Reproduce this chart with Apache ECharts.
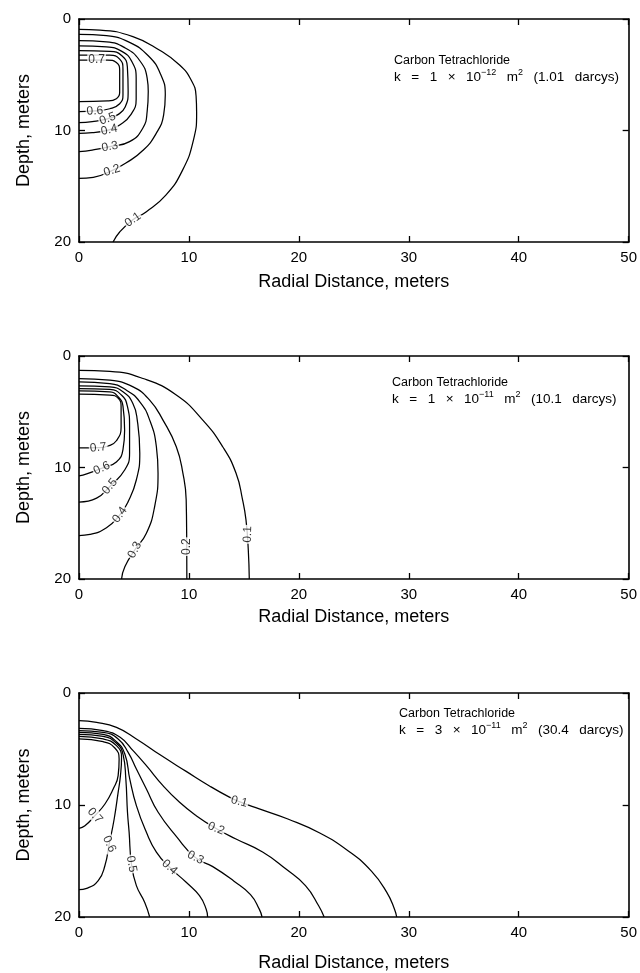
<!DOCTYPE html>
<html><head><meta charset="utf-8">
<script src="https://cdn.jsdelivr.net/npm/echarts@6/dist/echarts.min.js"></script>
<style>html,body{margin:0;padding:0;background:#fff}#c{width:640px;height:973px}</style>
</head><body><div id="c"></div>
<script>
// ---------- DATA ----------
const xRange = [0, 50];
const yRange = [0, 20];
const xInterval = 10;
const yInterval = 10;
const xAxisName = 'Radial Distance, meters';
const yAxisName = 'Depth, meters';
const titleLine1 = ['Carbon Tetrachloride', 'Carbon Tetrachloride', 'Carbon Tetrachloride'];
const titleLine2 = [
  'k = 1 × 10{sup|−12} m{sup|2} (1.01 darcys)',
  'k = 1 × 10{sup|−11} m{sup|2} (10.1 darcys)',
  'k = 3 × 10{sup|−11} m{sup|2} (30.4 darcys)'
];

// Panel 1 contours: [radial distance, depth]
const p1_c01 = [[0,0.93],[1.9,0.99],[4.9,1.58],[7.3,2.78],[9.15,4.13],[10.2,5.47],[10.65,6.9],[10.7,8.4],[10.4,10.9],[9.4,13.6],[7.9,15.8],[6.1,17.3],[4.9,18.0],[3.7,19.1],[3.1,20]];
const p1_c02 = [[0,1.37],[2.5,1.5],[4.6,2.1],[6.3,3.3],[7.4,4.9],[7.85,6.8],[7.7,8.6],[7.0,10.3],[5.8,11.8],[4.3,12.9],[3.0,13.6],[1.3,14.2],[0,14.3]];
const p1_c03 = [[0,1.94],[2.5,2.05],[4.2,2.6],[5.5,3.7],[6.2,5.3],[6.3,6.5],[6.2,8.3],[5.8,9.8],[4.6,11.0],[2.8,11.45],[1.2,11.75],[0,11.9]];
const p1_c04 = [[0,2.42],[2.5,2.5],[3.9,2.9],[4.8,3.8],[5.2,5.3],[5.2,7.2],[4.7,8.6],[3.7,9.5],[2.75,9.95],[1.2,10.2],[0,10.25]];
const p1_c05 = [[0,2.84],[2.8,2.9],[3.9,3.3],[4.4,4.3],[4.47,6.5],[4.2,7.9],[3.5,8.6],[2.6,8.95],[1.2,9.2],[0,9.3]];
const p1_c06 = [[0,3.23],[2.8,3.25],[3.7,3.6],[4.0,4.5],[4.0,6.8],[3.7,7.6],[2.8,8.05],[1.45,8.25],[0,8.3]];
const p1_c07 = [[0,3.68],[2.6,3.68],[3.4,3.9],[3.7,4.6],[3.7,6.6],[3.4,7.15],[2.6,7.35],[0,7.4]];
const p1_labels = [[1.6,3.68,'0.7'],[1.45,8.25,'0.6'],[2.6,8.95,'0.5'],[2.75,9.95,'0.4'],[2.8,11.45,'0.3'],[3.0,13.6,'0.2'],[4.9,18.0,'0.1']];

// Panel 2 contours
const p2_c01 = [[0,1.28],[2.8,1.37],[5.83,2.02],[8.85,3.5],[11.26,5.75],[13.07,8.14],[14.28,10.5],[14.88,12.9],[15.19,14.7],[15.4,17.4],[15.49,20]];
const p2_c02 = [[0,2.02],[2.8,2.17],[4.92,2.77],[6.43,3.96],[7.64,5.75],[8.85,8.14],[9.45,10.5],[9.75,12.9],[9.8,17.1],[9.81,20]];
const p2_c03 = [[0,2.32],[2.8,2.47],[4.32,3.07],[5.53,4.11],[6.43,5.75],[7.04,8.14],[7.19,10.5],[6.88,13.5],[6.13,15.9],[5.07,17.4],[4.17,18.9],[3.87,20]];
const p2_c04 = [[0,2.68],[2.8,2.77],[4.0,3.2],[4.9,4.26],[5.3,5.75],[5.53,8.73],[5.22,11.1],[4.47,13.06],[3.71,14.25],[2.5,15.4],[1.0,16.0],[0,16.1]];
const p2_c05 = [[0,2.92],[2.8,3.0],[3.86,3.5],[4.4,4.5],[4.6,6.3],[4.6,8.7],[4.17,10.2],[2.8,11.7],[1.6,12.75],[0,13.1]];
const p2_c06 = [[0,3.13],[2.8,3.22],[3.6,3.7],[4.0,4.5],[4.15,6.65],[4.0,8.4],[3.4,9.5],[2.07,10.07],[0.7,10.58],[0,10.76]];
const p2_c07 = [[0,3.43],[2.8,3.5],[3.6,3.83],[3.83,4.57],[3.83,6.36],[3.4,7.6],[2.66,8.07],[1.75,8.22],[0,8.25]];
const p2_labels = [[1.75,8.22,'0.7'],[2.07,10.07,'0.6'],[2.8,11.7,'0.5'],[3.71,14.25,'0.4'],[5.07,17.4,'0.3'],[9.8,17.1,'0.2'],[15.35,16.0,'0.1']];

// Panel 3 contours
const p3_c01 = [[0,2.47],[1.6,2.62],[3.41,3.07],[5.22,4.1],[7.34,5.5],[9.75,7.0],[11.87,8.3],[13.68,9.3],[14.58,9.7],[16.4,10.35],[19.0,11.25],[21.9,12.5],[24.5,14.1],[26.6,15.9],[28.0,17.8],[28.7,19.3],[28.9,20]];
const p3_c02 = [[0,3.15],[2.2,3.36],[3.74,3.96],[4.92,5.15],[6.13,6.49],[7.64,8.27],[9.15,9.76],[10.66,10.95],[12.47,12.1],[14.28,13.04],[16.7,14.2],[18.8,15.7],[20.6,17.2],[21.8,19.0],[22.3,20]];
const p3_c03 = [[0,3.36],[2.2,3.51],[3.56,4.1],[4.47,5.3],[5.22,6.79],[6.13,8.57],[7.2,10.65],[8.85,12.8],[10.6,14.7],[12.17,15.5],[14.1,16.8],[15.6,18.0],[16.4,19.3],[16.65,20]];
const p3_c04 = [[0,3.51],[2.2,3.69],[3.41,4.35],[4.17,5.45],[4.62,7.68],[5.22,10.06],[6.13,12.44],[7.04,14.2],[8.24,15.56],[9.75,16.9],[10.96,18.1],[11.57,19.3],[11.7,20]];
const p3_c05 = [[0,3.69],[2.2,3.87],[3.41,4.49],[4.02,5.54],[4.26,7.68],[4.41,10.65],[4.56,12.44],[4.77,15.27],[5.22,17.2],[5.98,18.7],[6.43,20]];
const p3_c06 = [[0,3.87],[2.2,4.1],[3.41,4.7],[3.87,5.74],[3.77,7.38],[3.56,8.87],[3.2,11.25],[2.75,13.48],[2.36,15.4],[1.75,16.76],[0.7,17.44],[0,17.56]];
const p3_c07 = [[0,4.1],[2.2,4.35],[3.26,4.91],[3.65,5.89],[3.56,7.38],[3.11,8.57],[2.36,9.91],[1.45,10.95],[0.54,11.85],[0,12.08]];
const p3_labels = [[14.58,9.7,'0.1'],[12.47,12.1,'0.2'],[10.6,14.7,'0.3'],[8.24,15.56,'0.4'],[4.77,15.27,'0.5'],[2.75,13.48,'0.6'],[1.45,10.95,'0.7']];

// ---------- STYLE / LAYOUT ----------
const FONT = '"Liberation Sans", Arial, Helvetica, sans-serif';
const gridBoxes = [
  {left: 79, top: 19, width: 552, height: 223},
  {left: 79, top: 356, width: 552, height: 223},
  {left: 79, top: 693, width: 552, height: 225}
];
const xNameGaps = [31, 29, 37];
const labelRotations = [
  [0, 4, 20, 12, 10, 18, 35],
  [6, 25, 50, 55, 62, 90, 88],
  [-15, -22, -28, -42, -80, -65, -48]
];
const titlePos = [[394, 54], [392, 376], [399, 707]];
const SP = ' \u2002';

const panels = [
  {contours: [p1_c01,p1_c02,p1_c03,p1_c04,p1_c05,p1_c06,p1_c07], labels: p1_labels},
  {contours: [p2_c01,p2_c02,p2_c03,p2_c04,p2_c05,p2_c06,p2_c07], labels: p2_labels},
  {contours: [p3_c01,p3_c02,p3_c03,p3_c04,p3_c05,p3_c06,p3_c07], labels: p3_labels}
];

const axisLine = {show: true, onZero: false, lineStyle: {color: '#000', width: 1.6}};
const axisTick = {show: true, inside: true, length: 6, lineStyle: {color: '#000', width: 1.3}};

const grid = [], xAxis = [], yAxis = [], series = [], graphic = [];
panels.forEach((p, g) => {
  grid.push(Object.assign({containLabel: false}, gridBoxes[g]));
  xAxis.push({
    type: 'value', gridIndex: g, position: 'bottom', min: xRange[0], max: xRange[1], interval: xInterval,
    axisLine, axisTick, splitLine: {show: false},
    axisLabel: {color: '#000', fontSize: 15, fontFamily: FONT, margin: 8},
    name: xAxisName, nameLocation: 'middle', nameGap: xNameGaps[g],
    nameTextStyle: {color: '#000', fontSize: 18, fontFamily: FONT}
  });
  xAxis.push({
    type: 'value', gridIndex: g, position: 'top', min: xRange[0], max: xRange[1], interval: xInterval,
    axisLine, axisTick, splitLine: {show: false}, axisLabel: {show: false}
  });
  yAxis.push({
    type: 'value', gridIndex: g, position: 'left', inverse: true, min: yRange[0], max: yRange[1], interval: yInterval,
    axisLine, axisTick, splitLine: {show: false},
    axisLabel: {color: '#000', fontSize: 15, fontFamily: FONT, margin: 8},
    name: yAxisName, nameLocation: 'middle', nameGap: 46, nameRotate: 90,
    nameTextStyle: {color: '#000', fontSize: 18, fontFamily: FONT}
  });
  yAxis.push({
    type: 'value', gridIndex: g, position: 'right', inverse: true, min: yRange[0], max: yRange[1], interval: yInterval,
    axisLine, axisTick, splitLine: {show: false}, axisLabel: {show: false}
  });
  p.contours.forEach(c => {
    series.push({
      type: 'line', xAxisIndex: 2 * g, yAxisIndex: 2 * g, data: c, smooth: 0.5,
      symbol: 'none', silent: true, animation: false, z: 2,
      lineStyle: {color: '#000', width: 1.25}
    });
  });
  series.push({
    type: 'scatter', xAxisIndex: 2 * g, yAxisIndex: 2 * g, symbolSize: 0, silent: true, animation: false, z: 5,
    data: p.labels.map((l, i) => ({
      value: [l[0], l[1]],
      label: {show: true, position: 'inside', formatter: l[2], rotate: labelRotations[g][i],
        color: '#000', fontSize: 12, fontFamily: FONT, backgroundColor: '#fff', padding: [0, 1]}
    }))
  });
  graphic.push({type: 'text', left: titlePos[g][0], top: titlePos[g][1],
    style: {text: titleLine1[g], fill: '#000', fontSize: 12.5, fontFamily: FONT}});
  graphic.push({type: 'text', left: titlePos[g][0], top: titlePos[g][1] + 14,
    style: {text: titleLine2[g].split(' ').join(SP), fill: '#000', fontSize: 13.5, fontFamily: FONT, lineHeight: 18,
      rich: {sup: {fontSize: 9, fontFamily: FONT, verticalAlign: 'top', lineHeight: 9, fill: '#000'}}}});
});

const chart = echarts.init(document.getElementById('c'), null, {renderer: 'canvas'});
chart.setOption({backgroundColor: '#fff', animation: false, grid, xAxis, yAxis, series, graphic});
</script>
</body></html>
